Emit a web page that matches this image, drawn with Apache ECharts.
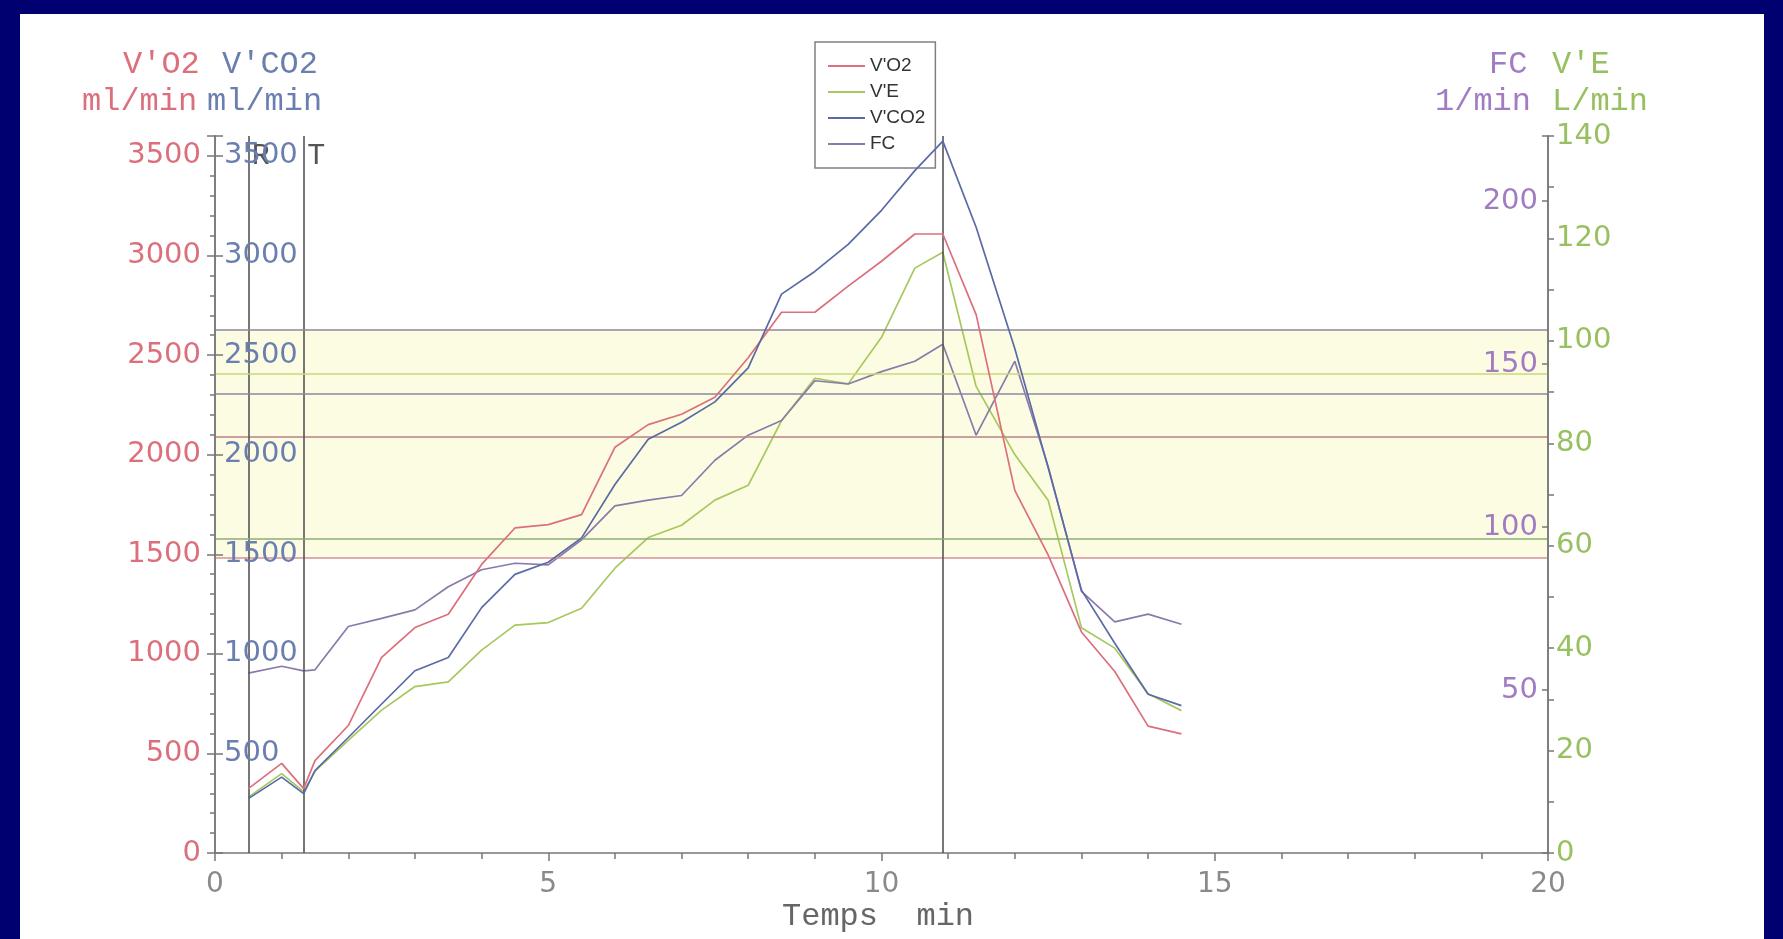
<!DOCTYPE html>
<html>
<head>
<meta charset="utf-8">
<script src="https://cdn.jsdelivr.net/npm/echarts@6/dist/echarts.min.js"></script>
<style>
  html, body { margin: 0; padding: 0; background: #fff; }
  #chart { width: 1783px; height: 939px; }
  #frame {
    position: absolute; left: 0; top: 0; width: 1783px; height: 939px;
    box-sizing: border-box; pointer-events: none;
    border-left: 20px solid #000070; border-top: 14px solid #000070; border-right: 19px solid #000070;
  }
</style>
</head>
<body>
<div id="chart"></div>
<div id="frame"></div>
<script>
// time (min)
const times = [0.5, 1, 1.33, 1.5, 2, 2.5, 3, 3.5, 4, 4.5, 5, 5.5, 6, 6.5, 7, 7.5, 8, 8.5, 9, 9.5,
               10, 10.5, 10.92, 11.42, 12, 12.5, 13, 13.5, 14, 14.5];
// ml/min
const vo2 = [323, 450, 323, 464, 640, 982, 1132, 1199, 1449, 1632, 1649, 1699, 2037, 2151, 2203, 2288,
             2487, 2715, 2715, 2846, 2971, 3108, 3108, 2703, 1821, 1497, 1110, 911, 637, 598];
const vco2 = [273, 381, 298, 414, 580, 748, 915, 982, 1232, 1399, 1460, 1582, 1850, 2077, 2163, 2265,
              2436, 2806, 2920, 3056, 3227, 3426, 3574, 3142, 2533, 1935, 1320, 1053, 797, 740];
// L/min
const ve = [10.9, 15.5, 12, 16, 22, 27.9, 32.5, 33.4, 39.6, 44.5, 45, 47.8, 55.6, 61.6, 64, 68.9,
            71.8, 84.4, 92.7, 91.6, 100.7, 114.2, 117.3, 91.1, 77.8, 68.9, 44, 40, 31.1, 27.8];
// 1/min
const fc = [55.2, 57.3, 55.9, 56.2, 69.5, 72, 74.6, 81.7, 86.9, 88.9, 88.4, 96.1, 106.5, 108.3, 109.7, 120.5,
            128.2, 132.7, 144.9, 143.9, 147.7, 150.9, 156.1, 128.2, 150.9, 118.7, 80.3, 70.9, 73.3, 70.2];

// reference zones and event markers
const vo2Band = [1480, 2090];
const veBand = [61.3, 93.6];
const fcBand = [140.8, 160.6];
const markers = [{ t: 0.5, name: 'R' }, { t: 1.33, name: 'T' }, { t: 10.92, name: '' }];

const RED = '#dc6f7c', BLUE = '#5a6aa6', GREEN = '#a6c85e', PURPLE = '#8a7aaa';
const mono = 'Liberation Mono';
const sans = 'DejaVu Sans';
const zoneFill = '#fcfce2';

const pair = (xs, ys) => xs.map((x, i) => [x, ys[i]]);
const hideNot = step => v => (v % step === 0 ? String(v) : '');

const axisLine = { show: true, lineStyle: { color: '#777', width: 1.5 } };
const headFont = '32px "Liberation Mono"';

const chart = echarts.init(document.getElementById('chart'));
chart.setOption({
  animation: false,
  backgroundColor: '#fff',
  grid: { left: 215, right: 235, top: 136, bottom: 86 },
  legend: {
    data: ["V'O2", "V'E", "V'CO2", 'FC'],
    orient: 'vertical', left: 815, top: 42,
    icon: 'rect', itemWidth: 37, itemHeight: 2, itemGap: 4,
    backgroundColor: '#fff', borderColor: '#808080', borderWidth: 1.5,
    padding: [13, 10, 13, 13],
    textStyle: { fontFamily: 'Liberation Sans', fontSize: 19, lineHeight: 22, color: '#333' }
  },
  xAxis: {
    type: 'value', min: 0, max: 20, interval: 5, z: 3,
    axisLine: axisLine,
    axisTick: { show: true, length: 8, lineStyle: { color: '#777', width: 1.5 } },
    minorTick: { show: true, splitNumber: 5, length: 6, lineStyle: { color: '#777', width: 1.5 } },
    splitLine: { show: false },
    axisLabel: { color: '#8a8a8a', fontFamily: sans, fontSize: 28, margin: 18 }
  },
  yAxis: [
    { // V'O2 (red, outside)
      type: 'value', position: 'left', min: 0, max: 3600, interval: 500, z: 3,
      axisLine: axisLine,
      axisTick: { show: true, length: 8, lineStyle: { color: '#777', width: 1.5 } },
      minorTick: { show: true, splitNumber: 5, length: 5, lineStyle: { color: '#777', width: 1.5 } },
      splitLine: { show: false },
      axisLabel: { color: RED, fontFamily: sans, fontSize: 29, margin: 14, formatter: hideNot(500) }
    },
    { // V'CO2 (blue, inside)
      type: 'value', position: 'left', min: 0, max: 3600, interval: 500, z: 8,
      axisLine: axisLine,
      axisTick: { show: true, inside: true, length: 8, lineStyle: { color: '#777', width: 1.5 } },
      splitLine: { show: false },
      axisLabel: { inside: true, color: '#6a7fb0', fontFamily: sans, fontSize: 29, margin: 9,
                   formatter: v => (v > 0 && v % 500 === 0 ? String(v) : '') }
    },
    { // V'E (green, outside right)
      type: 'value', position: 'right', min: 0, max: 140, interval: 20, z: 3,
      axisLine: axisLine,
      axisTick: { show: true, length: 6, lineStyle: { color: '#777', width: 1.5 } },
      minorTick: { show: true, splitNumber: 2, length: 6, lineStyle: { color: '#777', width: 1.5 } },
      splitLine: { show: false },
      axisLabel: { color: '#98c060', fontFamily: sans, fontSize: 29, margin: 8, formatter: hideNot(20) }
    },
    { // FC (purple, inside right)
      type: 'value', position: 'right', min: 0, max: 220, interval: 50, z: 8,
      axisLine: axisLine,
      axisTick: { show: true, inside: true, length: 6, lineStyle: { color: '#777', width: 1.5 } },
      splitLine: { show: false },
      axisLabel: { inside: true, color: '#a27cc2', fontFamily: sans, fontSize: 29, margin: 10,
                   formatter: v => (v > 0 && v % 50 === 0 ? String(v) : '') }
    }
  ],
  graphic: [
    { type: 'text', left: 123, top: 49, style: { text: "V'O2", fill: RED, font: headFont } },
    { type: 'text', left: 222, top: 49, style: { text: "V'CO2", fill: '#6a7fb0', font: headFont } },
    { type: 'text', left: 82, top: 86, style: { text: 'ml/min', fill: RED, font: headFont } },
    { type: 'text', left: 207, top: 86, style: { text: 'ml/min', fill: '#6a7fb0', font: headFont } },
    { type: 'text', left: 1489, top: 49, style: { text: 'FC', fill: '#a27cc2', font: headFont } },
    { type: 'text', left: 1552, top: 49, style: { text: "V'E", fill: '#98c060', font: headFont } },
    { type: 'text', left: 1435, top: 86, style: { text: '1/min', fill: '#a27cc2', font: headFont } },
    { type: 'text', left: 1552, top: 86, style: { text: 'L/min', fill: '#98c060', font: headFont } },
    { type: 'text', left: 782, top: 901, style: { text: 'Temps  min', fill: '#666', font: headFont } }
  ],
  series: [
    {
      name: "V'O2", type: 'line', yAxisIndex: 0, data: pair(times, vo2),
      symbol: 'none', lineStyle: { color: RED, width: 1.7 }, itemStyle: { color: RED }, z: 5,
      markArea: { silent: true, itemStyle: { color: zoneFill }, data: [[{ yAxis: vo2Band[0] }, { yAxis: vo2Band[1] }]] },
      markLine: {
        silent: true, symbol: ['none', 'none'], label: { show: false },
        data: [
          { yAxis: vo2Band[0], lineStyle: { color: '#d8909a', width: 1.6, type: 'solid' } },
          { yAxis: vo2Band[1], lineStyle: { color: '#b88088', width: 1.6, type: 'solid' } },
          ...markers.map(m => ({ xAxis: m.t, lineStyle: { color: '#555', width: 1.6, type: 'solid' } }))
        ]
      },
      markPoint: {
        silent: true, symbol: 'circle', symbolSize: 1, itemStyle: { color: 'rgba(0,0,0,0)' },
        label: { show: true, position: 'right', distance: 3, formatter: p => p.name,
                 color: '#555', fontFamily: mono, fontSize: 30 },
        data: markers.filter(m => m.name).map(m => ({ name: m.name, coord: [m.t, 3500] }))
      }
    },
    {
      name: "V'E", type: 'line', yAxisIndex: 2, data: pair(times, ve),
      symbol: 'none', lineStyle: { color: GREEN, width: 1.7 }, itemStyle: { color: GREEN }, z: 4,
      markArea: { silent: true, itemStyle: { color: zoneFill }, data: [[{ yAxis: veBand[0] }, { yAxis: veBand[1] }]] },
      markLine: {
        silent: true, symbol: ['none', 'none'], label: { show: false },
        data: [
          { yAxis: veBand[0], lineStyle: { color: '#8eae72', width: 1.6, type: 'solid' } },
          { yAxis: veBand[1], lineStyle: { color: '#cad87a', width: 1.6, type: 'solid' } }
        ]
      }
    },
    {
      name: "V'CO2", type: 'line', yAxisIndex: 1, data: pair(times, vco2),
      symbol: 'none', lineStyle: { color: BLUE, width: 1.7 }, itemStyle: { color: BLUE }, z: 5
    },
    {
      name: 'FC', type: 'line', yAxisIndex: 3, data: pair(times, fc),
      symbol: 'none', lineStyle: { color: PURPLE, width: 1.7 }, itemStyle: { color: PURPLE }, z: 4,
      markArea: { silent: true, itemStyle: { color: zoneFill }, data: [[{ yAxis: fcBand[0] }, { yAxis: fcBand[1] }]] },
      markLine: {
        silent: true, symbol: ['none', 'none'], label: { show: false },
        data: [
          { yAxis: fcBand[0], lineStyle: { color: '#8e86a2', width: 1.6, type: 'solid' } },
          { yAxis: fcBand[1], lineStyle: { color: '#8e86a2', width: 1.6, type: 'solid' } }
        ]
      }
    }
  ]
});
</script>
</body>
</html>
